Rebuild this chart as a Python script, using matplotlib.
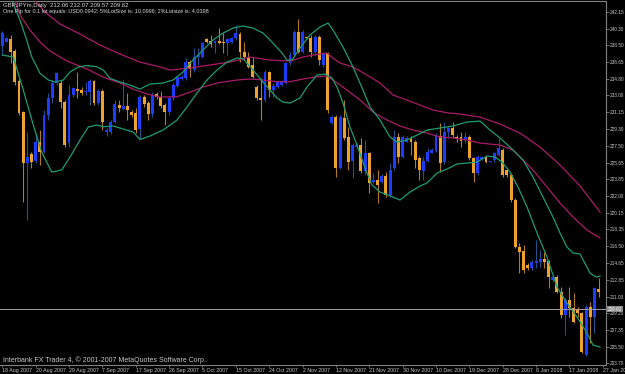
import matplotlib
matplotlib.use("Agg")
import matplotlib.pyplot as plt
from matplotlib.transforms import blended_transform_factory

# ---------------- data ----------------
opens = [238.39, 238.86, 239.16, 237.85, 234.57, 231.18, 225.60, 226.59, 225.82, 227.90,
         226.81, 230.85, 232.71, 234.35, 234.35, 232.27, 227.79, 233.04, 233.75, 233.64,
         233.33, 233.36, 234.57, 232.16, 233.47, 228.99, 228.99, 230.09, 231.94, 231.51,
         231.83, 231.18, 231.07, 229.32, 232.82, 232.16, 230.96, 233.15, 232.82, 231.94,
         231.18, 232.71, 234.02, 234.79, 234.90, 236.64, 235.77, 237.14, 237.19, 239.16,
         238.99, 238.77, 238.85, 238.85, 238.72, 238.86, 239.23, 239.76, 237.77, 237.22,
         236.32, 233.94, 232.68, 232.49, 235.58, 233.58, 233.94, 234.13, 234.32, 236.50,
         237.41, 239.96, 237.77, 239.43, 239.23, 237.77, 239.38, 236.32, 237.60, 229.98,
         230.63, 225.06, 230.52, 228.45, 225.82, 227.39, 227.57, 224.73, 226.70, 223.56,
         223.75, 223.56, 224.18, 222.11, 225.06, 228.45, 226.26, 227.93, 228.23, 227.90,
         226.12, 224.78, 225.88, 226.73, 226.97, 228.56, 225.71, 228.99, 229.40, 228.48,
         228.45, 228.12, 228.45, 226.12, 224.48, 226.01, 226.29, 225.75, 225.93, 226.48,
         227.03, 224.84, 224.29, 221.56, 216.46, 215.99, 214.46, 214.10, 214.71, 214.82,
         215.08, 214.89, 212.82, 213.18, 211.54, 208.99, 210.63, 209.72, 209.54, 209.18,
         204.62, 209.90, 208.81, 211.83]
highs = [240.03, 239.38, 239.60, 238.06, 234.79, 231.29, 228.99, 226.81, 228.88, 229.21,
         231.40, 233.25, 234.68, 235.55, 234.68, 232.49, 234.13, 233.91, 235.55, 233.91,
         234.46, 234.79, 234.68, 233.69, 233.69, 229.43, 230.30, 232.49, 232.49, 234.68,
         233.25, 231.40, 231.62, 233.04, 233.04, 232.38, 233.36, 233.36, 233.47, 232.16,
         232.82, 234.35, 235.22, 235.22, 237.08, 236.86, 238.17, 238.17, 238.83, 239.27,
         239.60, 239.05, 240.36, 239.81, 239.27, 239.38, 240.69, 239.92, 238.83, 237.74,
         237.19, 234.13, 234.90, 235.77, 235.66, 234.32, 234.68, 234.68, 236.68, 237.77,
         240.14, 241.40, 240.14, 239.49, 239.60, 239.60, 239.60, 237.77, 237.77, 230.85,
         230.85, 230.85, 232.49, 229.54, 227.79, 227.79, 228.34, 228.12, 226.84, 224.51,
         224.84, 224.40, 224.62, 225.60, 229.21, 228.88, 228.66, 228.56, 228.56, 228.12,
         226.37, 226.26, 227.24, 227.24, 228.88, 229.98, 230.09, 229.57, 230.09, 228.66,
         228.99, 228.99, 228.66, 226.29, 226.48, 226.29, 226.37, 225.88, 226.84, 228.30,
         227.21, 224.95, 224.48, 221.75, 216.83, 216.64, 214.64, 215.00, 217.19, 216.10,
         215.91, 215.00, 213.25, 213.36, 212.08, 210.82, 212.08, 211.36, 209.90, 209.35,
         210.08, 210.44, 212.08, 213.00]
lows = [237.41, 238.83, 236.53, 234.13, 230.85, 221.34, 219.37, 225.06, 225.60, 225.39,
        226.70, 230.30, 232.16, 234.13, 231.62, 227.35, 227.35, 232.82, 232.71, 233.04,
        233.04, 231.94, 231.94, 231.94, 229.21, 228.56, 228.77, 229.98, 231.18, 231.40,
        230.30, 230.63, 228.88, 228.23, 231.73, 230.30, 230.63, 232.60, 231.62, 229.76,
        230.85, 232.49, 233.91, 234.68, 234.68, 235.00, 235.55, 236.32, 237.08, 238.72,
        238.28, 237.63, 238.67, 237.63, 237.41, 238.75, 239.05, 236.68, 236.86, 235.95,
        234.86, 232.49, 230.30, 232.30, 232.85, 232.85, 233.77, 234.07, 234.24, 236.32,
        237.22, 237.60, 237.60, 239.16, 237.22, 237.41, 236.32, 236.13, 231.07, 229.87,
        224.07, 224.95, 228.12, 224.84, 223.97, 227.24, 224.51, 224.29, 222.33, 223.42,
        221.23, 223.42, 221.89, 221.89, 224.84, 225.60, 226.15, 227.90, 226.48, 225.06,
        223.75, 223.75, 225.71, 226.70, 226.81, 224.62, 225.50, 228.34, 228.34, 227.90,
        227.39, 227.79, 225.93, 223.56, 224.29, 225.93, 225.57, 225.71, 225.75, 226.42,
        224.11, 224.11, 221.37, 216.28, 213.55, 213.55, 213.91, 213.91, 214.10, 214.27,
        214.10, 211.91, 212.63, 211.36, 208.63, 206.81, 208.81, 208.08, 208.81, 204.80,
        204.56, 205.90, 206.99, 210.96]
closes = [239.78, 239.23, 237.77, 234.46, 231.07, 225.60, 226.26, 225.71, 227.90, 226.81,
          230.85, 232.71, 234.35, 235.44, 232.27, 227.57, 233.04, 233.80, 233.47, 233.31,
          233.51, 234.57, 232.16, 233.47, 230.09, 229.21, 230.09, 232.05, 231.62, 231.83,
          231.40, 230.85, 229.21, 232.82, 232.05, 230.96, 233.04, 232.82, 231.83, 231.18,
          232.71, 234.13, 235.00, 235.00, 236.64, 235.88, 237.19, 237.41, 238.72, 238.88,
          238.67, 238.94, 238.77, 238.76, 239.16, 239.23, 239.78, 237.77, 237.22, 236.13,
          235.04, 232.68, 232.49, 235.58, 233.58, 234.05, 234.49, 234.57, 236.50, 237.41,
          239.96, 237.77, 239.92, 239.23, 237.77, 239.41, 236.86, 237.60, 231.40, 230.63,
          225.06, 230.63, 228.34, 225.71, 227.57, 227.63, 224.73, 226.70, 223.42, 223.75,
          223.20, 224.18, 222.11, 224.84, 228.45, 226.26, 228.45, 228.30, 227.85, 225.93,
          224.84, 225.82, 226.86, 227.03, 228.56, 225.60, 228.99, 229.40, 228.66, 228.28,
          228.06, 228.48, 226.12, 224.48, 226.29, 226.23, 225.75, 225.82, 226.66, 227.21,
          224.29, 224.29, 221.56, 216.46, 215.91, 213.91, 214.10, 214.82, 214.89, 215.08,
          214.82, 213.18, 213.18, 211.54, 208.99, 210.63, 209.72, 208.26, 209.21, 204.98,
          209.90, 208.81, 211.91, 211.56]

# Bollinger-type bands (green) and moving-average channel (magenta), read as knots
bb_up_x = [0, 2.25, 4.24, 5.85, 7.05, 9.04, 11.03, 12.64, 14.63, 16.23, 18.23, 20.24, 22.64, 24.22,
           25.83, 28.23, 30.62, 33.02, 35.42, 38.54, 40.94, 43.33, 45.73, 48.13, 50.53, 52.93,
           55.32, 57.72, 60.12, 62.52, 64.92, 67.07, 68.27, 69.47, 71.39, 73.79, 76.19, 78.11,
           79.3, 81.7, 84.1, 86.5, 88.18, 90.58, 92.97, 94.65, 97.05, 99.45, 101.85, 104.97,
           108.08, 111.44, 114.56, 116.95, 119.35, 122.47, 124.87, 127.27, 129.66, 132.06,
           133.74, 135.4, 136.9, 138.54, 140.94, 142.37, 143.33]
bb_up_y = [245.93, 243.42, 241.23, 239.05, 237.22, 235.41, 234.68, 234.46, 234.68, 235.55, 236.10,
           236.26, 236.13, 235.77, 234.86, 234.46, 234.13, 233.69, 234.24, 234.35, 234.68, 235.55,
           236.86, 237.96, 239.05, 239.81, 240.36, 240.58, 240.36, 239.81, 238.72, 237.63, 236.86,
           236.86, 238.17, 239.60, 240.47, 240.91, 240.14, 238.28, 236.10, 233.58, 231.73, 230.30,
           228.45, 227.90, 228.12, 228.66, 229.21, 229.43, 229.65, 230.09, 230.19, 229.21, 228.34,
           227.03, 225.93, 224.07, 221.89, 219.70, 217.95, 216.42, 215.77, 215.66, 213.58, 213.14,
           213.25]
bb_lo_x = [0, 2.64, 5.04, 7.43, 9.45, 11.85, 14.24, 16.23, 18.63, 20.62, 22.64, 24.22, 26.62, 29.02,
           31.41, 33.02, 35.42, 38.54, 41.89, 44.29, 46.69, 49.09, 51.49, 53.89, 56.28, 57.72,
           60.12, 62.52, 64.2, 65.88, 67.31, 68.99, 71.39, 73.07, 75.47, 77.39, 79.06, 80.26,
           81.7, 83.38, 85.06, 86.98, 88.66, 90.58, 92.49, 95.37, 97.77, 100.17, 101.85, 104.25,
           106.65, 109.04, 111.44, 113.84, 116.23, 118.15, 119.83, 121.75, 123.67, 125.83,
           128.23, 130.62, 133.02, 135.42, 137.82, 140.22, 141.65, 143.33]
bb_lo_y = [237.41, 237.19, 233.58, 229.76, 226.81, 224.62, 224.84, 226.26, 228.12, 229.54, 229.76,
           229.57, 229.65, 229.32, 228.99, 228.17, 228.56, 229.21, 230.30, 231.73, 233.25, 234.68,
           235.77, 236.64, 237.08, 237.03, 235.77, 234.46, 233.58, 232.71, 232.27, 232.16, 232.71,
           233.91, 235.22, 235.33, 234.90, 233.91, 232.16, 229.54, 227.57, 225.06, 223.20, 222.43,
           222.11, 221.56, 222.43, 223.09, 223.42, 224.51, 224.95, 225.50, 225.60, 225.71, 226.37,
           226.26, 225.71, 224.62, 222.98, 220.80, 217.95, 215.33, 212.05, 210.30, 208.77, 207.02,
           205.71, 205.49]
ma_up_x = [7.36, 10.24, 13.84, 18.63, 23.43, 28.23, 33.02, 37.82, 40.22, 45.01, 49.81, 54.6, 59.4,
           64.2, 68.99, 72.11, 74.51, 77.87, 79.3, 80.98, 84.1, 87.46, 90.58, 93.69, 97.05, 100.17,
           103.29, 106.65, 109.76, 114.56, 119.35, 124.15, 128.95, 133.74, 138.54, 143.33]
ma_up_y = [243.64, 242.11, 240.80, 239.70, 238.50, 237.52, 236.64, 236.10, 235.77, 235.99, 236.32,
           236.64, 237.19, 236.86, 236.75, 237.19, 237.41, 237.63, 237.08, 236.53, 236.10, 235.22,
           234.35, 233.04, 232.49, 231.94, 231.40, 231.10, 230.96, 230.63, 229.87, 228.88, 227.35,
           225.39, 223.09, 220.25]
ma_lo_x = [2.81, 4.24, 6.64, 9.04, 11.44, 15.52, 20.31, 24.15, 28.23, 31.34, 34.7, 37.82, 41.89,
           45.01, 48.13, 51.49, 56.28, 59.4, 62.52, 65.88, 68.99, 72.11, 75.47, 77.87, 79.3, 82.66,
           85.78, 88.9, 92.25, 95.37, 98.49, 101.85, 104.97, 108.08, 111.44, 114.56, 119.35, 122.47,
           124.87, 127.27, 130.62, 133.74, 136.86, 140.22, 143.33]
ma_lo_y = [243.64, 241.78, 240.14, 238.83, 237.85, 236.75, 235.88, 235.00, 234.35, 233.69, 233.15,
           232.82, 232.85, 233.36, 233.91, 234.35, 234.68, 234.79, 234.68, 234.49, 234.49, 234.79,
           235.04, 235.11, 234.68, 233.58, 232.49, 231.18, 230.30, 229.65, 229.21, 228.88, 228.45,
           228.34, 228.12, 227.79, 227.57, 227.03, 225.93, 224.84, 222.98, 221.23, 219.70, 218.28,
           217.41]

date_bars = [0, 8, 16, 24, 32, 40, 48, 56, 64, 72, 80, 88, 96, 104, 112, 120, 128, 136, 144]
date_labels = ["18 Aug 2007", "20 Aug 2007", "29 Aug 2007", "7 Sep 2007", "17 Sep 2007",
               "26 Sep 2007", "5 Oct 2007", "15 Oct 2007", "24 Oct 2007", "2 Nov 2007",
               "12 Nov 2007", "21 Nov 2007", "30 Nov 2007", "10 Dec 2007", "19 Dec 2007",
               "28 Dec 2007", "8 Jan 2008", "17 Jan 2008", "27 Jan 2008"]
price_ticks = [242.15, 240.30, 238.50, 236.65, 234.80, 233.00, 231.15, 229.30, 227.50, 225.65,
               223.85, 222.00, 220.15, 218.35, 216.50, 214.65, 212.85, 211.00, 209.20, 207.35,
               205.50, 203.70]
last_price = 209.62
header1 = "GBPJPYm,Daily  212.06 212.07 209.57 209.62"
header2 = ("One Pip for 0.1 lot equals: USD0.0942; 5%LotSize is: 10.0996; "
           "2%Lotsize is: 4.0398")
footer = "Interbank FX Trader 4, \u00a9 2001-2007 MetaQuotes Software Corp."

# ---------------- styling ----------------
plt.rcParams['font.family'] = ['Liberation Sans', 'DejaVu Sans']
W, H = 625, 374
fig = plt.figure(figsize=(W / 100, H / 100), dpi=100, facecolor='black')
ax = fig.add_axes([0, 9 / H, 606 / W, 364.5 / H])
ax.set_facecolor('black')

UP_BODY, DN_BODY = '#1c3cff', '#eca22c'
UP_WICK, DN_WICK = '#24508c', '#b07c1c'
GREEN, MAGENTA = '#1e9c72', '#a81c68'
GRID = '#808080'

n = len(opens)
xs = list(range(n))
for i in xs:
    o, h, l, c = opens[i], highs[i], lows[i], closes[i]
    up = c >= o
    ax.vlines(i, l, h, color=UP_WICK if up else DN_WICK, lw=0.8, zorder=2)
    lo_b = min(o, c)
    hgt = max(abs(c - o), 0.12)
    ax.bar(i, hgt, bottom=lo_b, width=0.7, color=UP_BODY if up else DN_BODY,
           linewidth=0, zorder=3)

ax.plot(ma_up_x, ma_up_y, color=MAGENTA, lw=0.9, zorder=4)
ax.plot(ma_lo_x, ma_lo_y, color=MAGENTA, lw=0.9, zorder=4)
ax.plot(bb_up_x, bb_up_y, color=GREEN, lw=0.9, zorder=4)
ax.plot(bb_lo_x, bb_lo_y, color=GREEN, lw=0.9, zorder=4)
ax.axhline(last_price, color='#a0a0a0', lw=0.7, zorder=5)

ax.set_xlim(-0.55, 144.77)
ax.set_ylim(203.53, 243.37)

# axes / spines
ax.spines['left'].set_visible(False)
for s in ['right', 'bottom', 'top']:
    ax.spines[s].set_color(GRID)
    ax.spines[s].set_linewidth(0.8)

ax.yaxis.tick_right()
ax.set_yticks(price_ticks)
ax.set_yticklabels([f"{v:.2f}" for v in price_ticks])
ax.tick_params(axis='y', direction='out', length=2.0, width=0.6, color=GRID,
               labelcolor='#c8c8c8', labelsize=3.4, pad=0.8)
ax.set_xticks(date_bars)
ax.set_xticklabels(date_labels)
for lbl in ax.get_xticklabels():
    lbl.set_ha('left')
ax.tick_params(axis='x', direction='out', length=1.5, width=0.6, color=GRID,
               labelcolor='#c8c8c8', labelsize=3.8, pad=0.5)

# last price box
tr = blended_transform_factory(ax.transAxes, ax.transData)
ax.text(1.003, last_price, f"{last_price:.2f}", transform=tr, ha='left', va='center',
        fontsize=3.4, color='white', zorder=10, clip_on=False,
        bbox=dict(boxstyle='square,pad=0.15', fc='#8a8a8a', ec='none'))

fig.text(3 / W, 1 - 5 / H, header1, color='#d8d8d8', fontsize=4.3, ha='left', va='center')
fig.text(3 / W, 1 - 11 / H, header2, color='#d8d8d8', fontsize=4.0, ha='left', va='center')
fig.text(3 / W, 1 - 360 / H, footer, color='#c8c8c8', fontsize=5.0, ha='left', va='center')

fig.savefig('out.png', dpi=100, facecolor='black')
